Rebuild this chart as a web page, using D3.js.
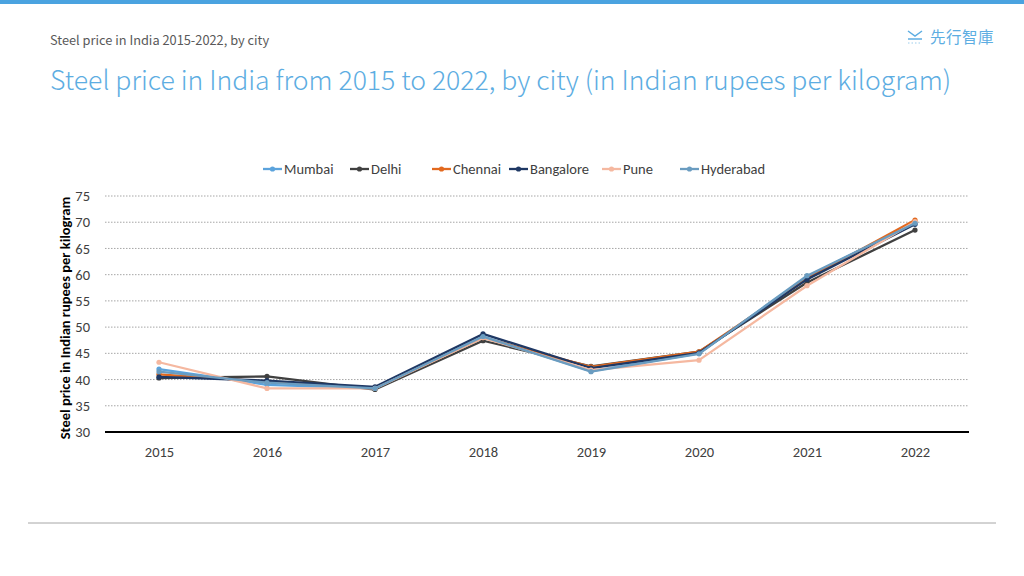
<!DOCTYPE html>
<html><head><meta charset="utf-8">
<script src="https://cdn.jsdelivr.net/npm/d3@7"></script>
<style>
body{margin:0;background:#fff;}
svg{display:block;}
</style></head>
<body>
<svg id="c" width="1024" height="576"></svg>
<script>
const years = ["2015","2016","2017","2018","2019","2020","2021","2022"];
const cities = ["Mumbai","Delhi","Chennai","Bangalore","Pune","Hyderabad"];
const mumbai    = [42.0, 39.0, 38.3, 48.2, 41.6, 45.0, 59.6, 70.0];
const delhi     = [40.3, 40.6, 38.1, 47.4, 42.5, 45.3, 58.5, 68.5];
const chennai   = [41.0, 39.6, 38.4, 48.0, 42.4, 45.3, 59.2, 70.4];
const bangalore = [40.5, 39.8, 38.6, 48.7, 42.2, 45.1, 59.1, 69.6];
const pune      = [43.3, 38.3, 38.3, 48.0, 41.8, 43.7, 57.9, 70.1];
const hyderabad = [41.5, 39.4, 38.3, 48.2, 41.5, 44.9, 59.8, 69.8];
const seriesValues = [mumbai, delhi, chennai, bangalore, pune, hyderabad];
const colors = ["#5ba3dc","#404040","#e2691f","#1f3864","#f5b8a0","#6a9cc0"];
const yTicks = [30,35,40,45,50,55,60,65,70,75];

(function(){
const svg = d3.select("#c");
const W = 1024, H = 576;

svg.append("rect").attr("x",0).attr("y",0).attr("width",W).attr("height",4).attr("fill","#4aa3e0");
svg.append("text").attr("x",50).attr("y",45).attr("font-family","Noto Sans CJK JP, Noto Sans, sans-serif")
  .attr("font-size",12.8).attr("fill","#595959").text("Steel price in India 2015-2022, by city");
svg.append("text").attr("x",50).attr("y",90).attr("font-family","Noto Sans CJK JP, Noto Sans, sans-serif")
  .attr("font-weight",300).attr("font-size",26.6).attr("fill","#5dade2")
  .text("Steel price in India from 2015 to 2022, by city (in Indian rupees per kilogram)");
const lg = svg.append("g").attr("transform","translate(908,30)");
lg.append("path").attr("d","M0,1 L7,6 L14,1").attr("fill","none").attr("stroke","#5dade2").attr("stroke-width",1.5);
lg.append("line").attr("x1",0).attr("x2",14).attr("y1",9).attr("y2",9).attr("stroke","#5dade2").attr("stroke-width",1.5);
lg.append("line").attr("x1",0).attr("x2",14).attr("y1",13).attr("y2",13).attr("stroke","#9ccdec").attr("stroke-width",1).attr("stroke-dasharray","1.5,2");
svg.append("text").attr("x",930).attr("y",43).attr("font-family","Noto Sans CJK JP, sans-serif")
  .attr("font-size",15.5).attr("fill","#5dade2").attr("letter-spacing",0.5).text("先行智庫");

svg.append("line").attr("x1",28).attr("x2",996).attr("y1",523).attr("y2",523).attr("stroke","#a6a6a6").attr("stroke-width",1);

const pL = 105, pR = 969, pT = 196, pB = 432;
const x = d3.scalePoint().domain(years).range([pL,pR]).padding(0.5);
const y = d3.scaleLinear().domain([30,75]).range([pB,pT]);
const font = "Carlito, Lato, Liberation Sans, sans-serif";

svg.append("g").selectAll("line").data(yTicks.filter(d=>d>30)).join("line")
  .attr("x1",pL).attr("x2",pR).attr("y1",d=>y(d)).attr("y2",d=>y(d))
  .attr("stroke","#a6a6a6").attr("stroke-width",1).attr("stroke-dasharray","1.5,1.5");

const yAxis = svg.append("g").attr("transform",`translate(${pL},0)`)
  .call(d3.axisLeft(y).tickValues(yTicks).tickSize(0).tickPadding(15));
yAxis.select(".domain").remove();
yAxis.selectAll("text").attr("font-family",font).attr("font-size",14.5).attr("fill","#404040");

const xAxis = svg.append("g").attr("transform",`translate(0,${pB})`)
  .call(d3.axisBottom(x).tickSize(0).tickPadding(15));
xAxis.select(".domain").remove();
xAxis.selectAll("text").attr("font-family",font).attr("font-size",14.5).attr("fill","#404040");
svg.append("line").attr("x1",pL).attr("x2",pR).attr("y1",pB).attr("y2",pB).attr("stroke","#000").attr("stroke-width",2.2);

svg.append("text").attr("transform",`translate(70,${(pT+pB)/2+4}) rotate(-90)`)
  .attr("text-anchor","middle").attr("font-family",font).attr("font-size",14.5).attr("font-weight","bold")
  .attr("fill","#000").text("Steel price in Indian rupees per kilogram");

const line = d3.line().x((d,i)=>x(years[i])).y(d=>y(d));
seriesValues.forEach((vals,k)=>{
  svg.append("path").datum(vals).attr("d",line).attr("fill","none")
    .attr("stroke",colors[k]).attr("stroke-width",2.3).attr("stroke-linejoin","round");
  svg.append("g").selectAll("circle").data(vals).join("circle")
    .attr("cx",(d,i)=>x(years[i])).attr("cy",d=>y(d)).attr("r",2.6).attr("fill",colors[k]);
});

const legX = [263,350,432,509,602,680];
cities.forEach((c,k)=>{
  const g = svg.append("g").attr("transform",`translate(${legX[k]},169)`);
  g.append("line").attr("x1",0).attr("x2",19).attr("y1",0).attr("y2",0).attr("stroke",colors[k]).attr("stroke-width",2.3);
  g.append("circle").attr("cx",9.5).attr("cy",0).attr("r",2.6).attr("fill",colors[k]);
  g.append("text").attr("x",21).attr("y",5).attr("font-family",font).attr("font-size",14.5).attr("fill","#404040").text(c);
});
})();
</script>
</body></html>
